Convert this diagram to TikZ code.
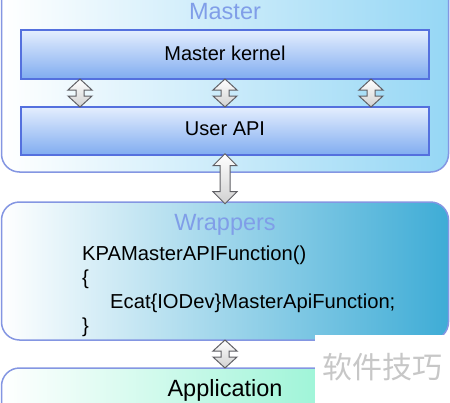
\documentclass[tikz,border=0pt]{standalone}
\usepackage{fontspec}
\setmainfont{Liberation Sans}
\newfontfamily\cjk{Noto Sans CJK SC}
\usetikzlibrary{calc}
\definecolor{mastercol}{RGB}{150,215,245}
\definecolor{wrapcol}{RGB}{62,172,214}
\definecolor{appcol}{RGB}{120,240,200}
\definecolor{framecol}{RGB}{132,150,226}
\definecolor{titlecol}{RGB}{128,158,232}
\definecolor{innerframe}{RGB}{84,112,222}
\definecolor{innertop}{RGB}{228,238,254}
\definecolor{innerbot}{RGB}{128,172,240}
\definecolor{arrowline}{RGB}{95,95,100}
\begin{document}
\begin{tikzpicture}[x=1pt,y=-1pt,
  bigbox/.style={draw=framecol, line width=1.5pt, rounded corners=18pt, inner sep=0pt},
  innerbox/.style={draw=innerframe, line width=2.4pt, top color=innertop, bottom color=innerbot, inner sep=0pt, minimum width=408pt},
  title/.style={text=titlecol, font=\fontsize{23.5}{26}\selectfont},
  label/.style={font=\fontsize{20}{22}\selectfont},
  code/.style={font=\fontsize{20.2}{22}\selectfont, anchor=base west, inner sep=0pt},
  blockarrow/.style={draw=arrowline, line width=1pt, line join=miter, top color=white, bottom color=black!18},
  notcharrow/.pic={\path[blockarrow] (0,-14) -- (12,-3) -- (4,-3) -- (4,3) -- (12,3) -- (0,14) -- (-12,3) -- (-4,3) -- (-4,-3) -- (-12,-3) -- cycle;},
  longarrow/.pic={\path[blockarrow] (0,-25) -- (12,-13) -- (5,-13) -- (5,13) -- (12,13) -- (0,25) -- (-12,13) -- (-5,13) -- (-5,-13) -- (-12,-13) -- cycle;}
]
\useasboundingbox (0,0) rectangle (450,402);
\begin{scope}
\clip (0,0) rectangle (450,402);
% boxes
\node[bigbox, left color=white, right color=mastercol, minimum width=447pt, minimum height=200pt] (master) at (225,72) {};
\node[title, anchor=base] (mastertitle) at (225,19) {Master};
\node[innerbox, minimum height=49pt] (kernel) at (225,54.5) {};
\node[label, anchor=base] (kerneltext) at (225,60) {Master kernel};
\node[innerbox, minimum height=48pt] (api) at (225,131) {};
\node[label, anchor=base] (apitext) at (225,135) {User API};

\node[bigbox, left color=white, right color=wrapcol, minimum width=447pt, minimum height=138pt] (wrap) at (225,271) {};
\node[title, anchor=base] (wraptitle) at (225,230) {Wrappers};
\node[code] (l1) at (82,260) {KPAMasterAPIFunction()};
\node[code] (l2) at (82,284) {\{};
\node[code] (l3) at (110,308) {Ecat\{IODev\}MasterApiFunction;};
\node[code] (l4) at (82,332) {\}};

\node[bigbox, left color=white, right color=appcol, minimum width=447pt, minimum height=80pt] (app) at (225,408) {};
\node[title, text=black, anchor=base] (apptext) at (225,396) {Application};

% block arrows
\coordinate (m1) at ($(kernel.south)!0.5!(api.north)$);
\pic at ($(m1)+(-145,0)$) {notcharrow};
\pic at (m1) {notcharrow};
\pic at ($(m1)+(146,0)$) {notcharrow};
\coordinate (m2) at ($(api.south)!0.5!(wrap.north)$);
\pic at (m2) {longarrow};
\coordinate (m3) at ($(wrap.south)!0.5!(app.north)$);
\pic at (m3) {notcharrow};

% watermark
\fill[white] (315,335) rectangle (452,404);
\node[text=black!22, font=\cjk\fontsize{30}{32}\selectfont] (wm) at (382,367) {软件技巧};
\end{scope}
\end{tikzpicture}
\end{document}
